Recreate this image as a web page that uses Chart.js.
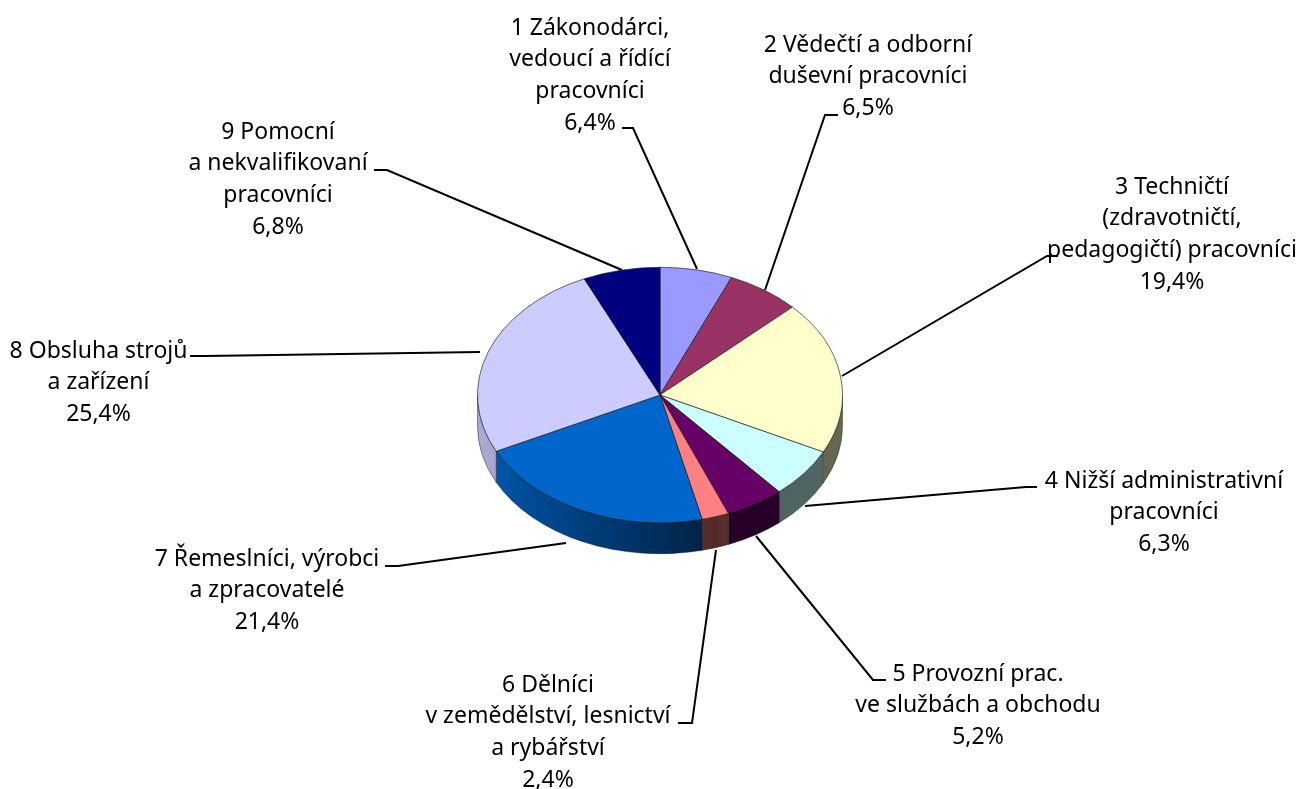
<!DOCTYPE html>
<html lang="cs"><head><meta charset="utf-8">
<script src="https://cdn.jsdelivr.net/npm/chart.js@4"></script>
<style>html,body{margin:0;padding:0;background:#fff}canvas{display:block}</style>
</head><body><canvas id="c" width="1301" height="789"></canvas>
<script>
const categories = [
  ["1 Zákonodárci,","vedoucí a řídící","pracovníci"],
  ["2 Vědečtí a odborní","duševní pracovníci"],
  ["3 Techničtí","(zdravotničtí,","pedagogičtí) pracovníci"],
  ["4 Nižší administrativní","pracovníci"],
  ["5 Provozní prac.","ve službách a obchodu"],
  ["6 Dělníci","v zemědělství, lesnictví","a rybářství"],
  ["7 Řemeslníci, výrobci","a zpracovatelé"],
  ["8 Obsluha strojů","a zařízení"],
  ["9 Pomocní","a nekvalifikovaní","pracovníci"]
];
const values = [6.4,6.5,19.4,6.3,5.2,2.4,21.4,25.4,6.8];
const colors = ["#9999FF","#993366","#FFFFCC","#CCFFFF","#660066","#FF8080","#0066CC","#CCCCFF","#000080"];
// label block: centre x, first-line y
const labelAnchors = [[590,28],[868,45],[1172,187],[1164,481],[978,674],[548,685],[267,559],[98.5,351],[278,132]];
// leader polylines
const leaders = [
 [[622,128],[633,128],[697,269]],
 [[838,115],[825,115],[765,290]],
 [[1058,256],[1047,256],[842,376]],
 [[1037,487],[1026,487],[805,506]],
 [[886,680],[873,680],[756,536]],
 [[678,723],[692,723],[716,550]],
 [[385,566],[398,566],[566,543]],
 [[190,356],[205,356],[480,352]],
 [[374,170],[387,170],[622,270]]
];
const squash = 0.70, depth = 31, lineH = 31.8;
const FONT = '23px "Noto Sans"';

const pie3d = {
  id:'pie3d',
  beforeDatasetsDraw(chart){
    const ctx = chart.ctx, arcs = chart.getDatasetMeta(0).data, a0 = arcs[0];
    const cx = a0.x, cy = a0.y, r = a0.outerRadius;
    ctx.save();
    ctx.strokeStyle = '#000'; ctx.lineWidth = 2;
    leaders.forEach(l=>{ctx.beginPath();l.forEach((p,i)=>i?ctx.lineTo(p[0],p[1]):ctx.moveTo(p[0],p[1]));ctx.stroke();});
    const shade = ctx.createLinearGradient(cx-r,0,cx+r,0);
    shade.addColorStop(0,'rgba(0,0,0,0.17)');
    shade.addColorStop(0.08,'rgba(0,0,0,0.2)');
    shade.addColorStop(0.12,'rgba(0,0,0,0.25)');
    shade.addColorStop(0.65,'rgba(0,0,0,0.68)');
    shade.addColorStop(0.72,'rgba(0,0,0,0.62)');
    shade.addColorStop(1,'rgba(0,0,0,0.6)');
    arcs.forEach((arc,i)=>{
      const s = Math.max(arc.startAngle,0), e = Math.min(arc.endAngle,Math.PI);
      if(e<=s) return;
      const path = new Path2D();
      path.ellipse(cx,cy,r,r*squash,0,s,e,false);
      path.ellipse(cx,cy+depth,r,r*squash,0,e,s,true);
      path.closePath();
      ctx.fillStyle = colors[i]; ctx.fill(path);
      ctx.fillStyle = shade; ctx.fill(path);
      ctx.strokeStyle = 'rgba(30,30,30,0.55)'; ctx.lineWidth = 0.8; ctx.stroke(path);
    });
    ctx.restore();
    ctx.save();
    ctx.translate(0,cy); ctx.scale(1,squash); ctx.translate(0,-cy);
  },
  afterDatasetsDraw(chart){
    const ctx = chart.ctx;
    ctx.restore();
    ctx.save();
    ctx.font = FONT; ctx.fillStyle = '#000'; ctx.textAlign = 'center'; ctx.textBaseline = 'middle';
    categories.forEach((lines,i)=>{
      const [x,y] = labelAnchors[i];
      const all = lines.concat([values[i].toFixed(1).replace('.',',')+'%']);
      all.forEach((t,k)=>ctx.fillText(t,x,y+k*lineH));
    });
    ctx.restore();
  }
};

new Chart(document.getElementById('c'),{
  type:'pie',
  data:{labels:categories.map(c=>c.join(' ')),datasets:[{data:values,backgroundColor:colors,borderColor:'rgba(20,20,20,0.75)',borderWidth:1}]},
  options:{responsive:false,animation:false,radius:182.5,layout:{padding:{left:19,top:1}},
    plugins:{legend:{display:false},tooltip:{enabled:false}},events:[]},
  plugins:[pie3d]
});
</script></body></html>
